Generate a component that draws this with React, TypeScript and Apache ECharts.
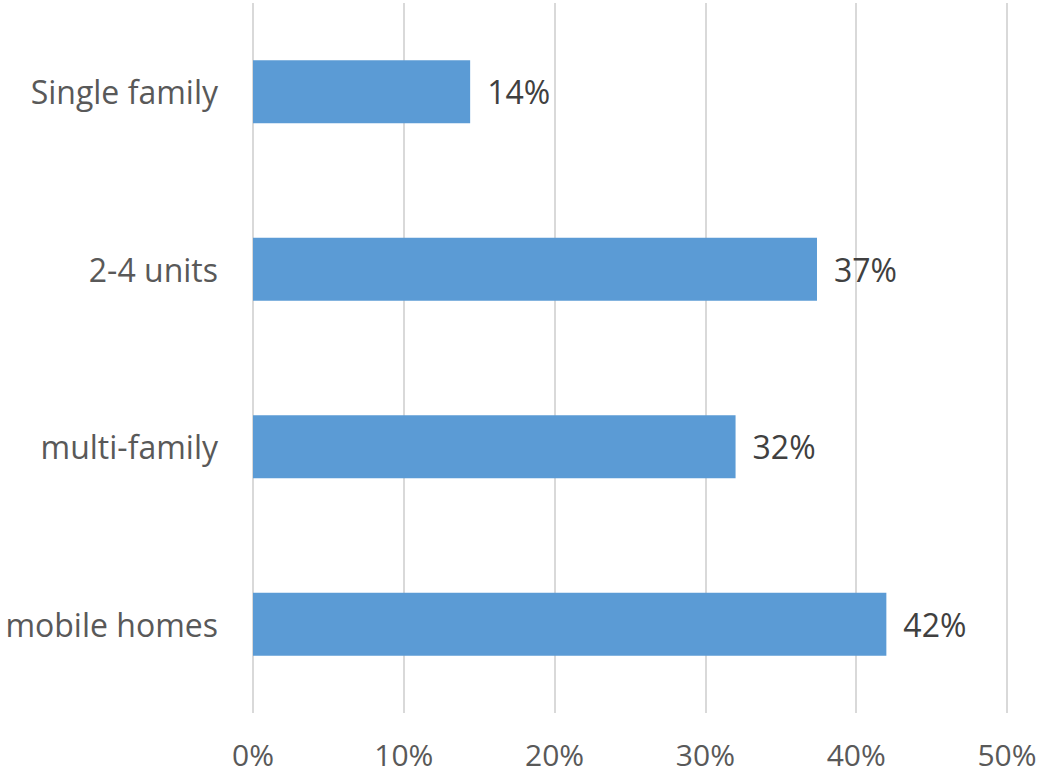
import React, { useEffect, useRef } from "react";
import * as echarts from "echarts";

const categories = ["Single family", "2-4 units", "multi-family", "mobile homes"];
const values = [14.4, 37.4, 32.0, 42.0];
const xTicks = [0, 10, 20, 30, 40, 50];

export default function App() {
  const ref = useRef<HTMLDivElement>(null);
  useEffect(() => {
    if (!ref.current) return;
    const chart = echarts.init(ref.current, undefined, { renderer: "svg" });
    chart.setOption({
      animation: false,
      grid: { left: 253, right: 33, top: 3, bottom: 63, containLabel: false },
      xAxis: {
        type: "value",
        min: xTicks[0],
        max: xTicks[xTicks.length - 1],
        interval: 10,
        axisLine: { show: false },
        axisTick: { show: false },
        splitLine: { show: true, lineStyle: { color: "#d9d9d9", width: 2 } },
        axisLabel: {
          formatter: (v: number) => `${v}%`,
          color: "#595959",
          fontSize: 30,
          lineHeight: 28,
          fontFamily: "Open Sans",
          margin: 27,
        },
      },
      yAxis: {
        type: "category",
        data: categories,
        inverse: true,
        axisLine: { show: false },
        axisTick: { show: false },
        axisLabel: {
          color: "#595959",
          fontSize: 32,
          fontFamily: "Open Sans",
          margin: 35,
        },
      },
      series: [
        {
          type: "bar",
          data: values,
          barWidth: 63,
          itemStyle: { color: "#5b9bd5" },
          label: {
            show: true,
            position: "right",
            distance: 17,
            formatter: (p: any) => `${Math.round(p.value)}%`,
            color: "#404040",
            fontSize: 32,
            fontFamily: "Open Sans",
          },
        },
      ],
    });
    return () => chart.dispose();
  }, []);
  return <div ref={ref} style={{ width: 1040, height: 776, position: "absolute", left: 0, top: 0, background: "#fff" }} />;
}
